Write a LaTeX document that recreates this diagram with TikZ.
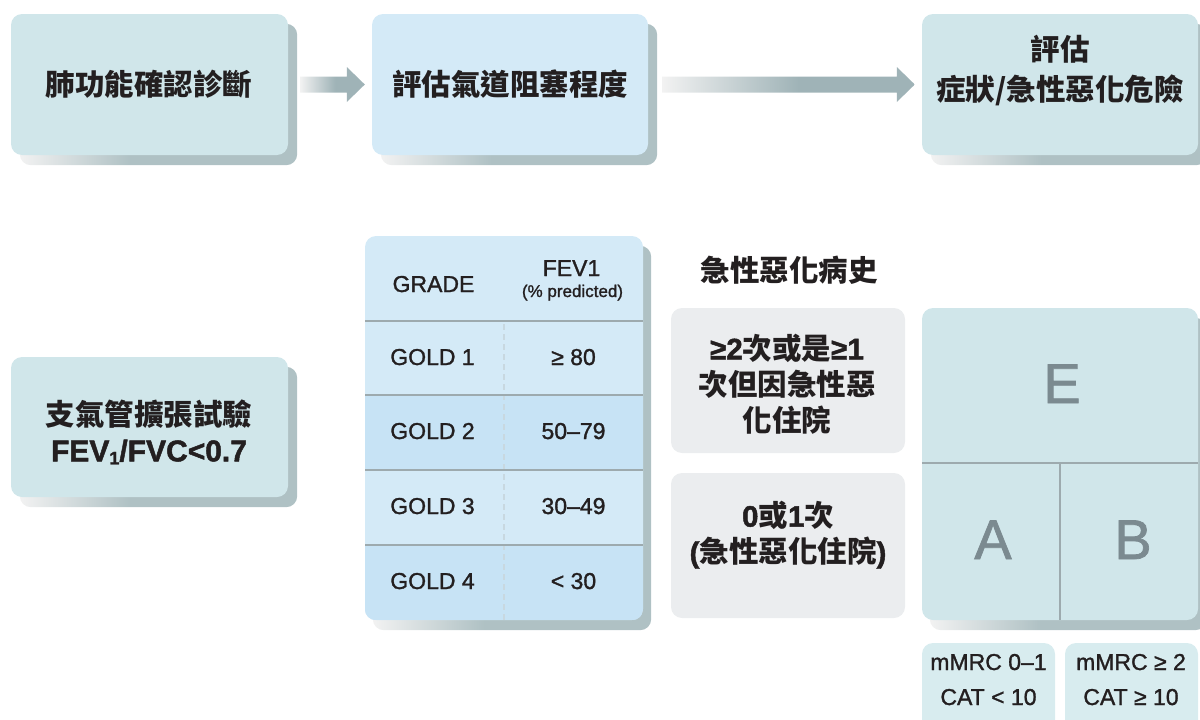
\documentclass[tikz,border=0pt]{standalone}
\usepackage{fontspec}
\setmainfont{Liberation Sans}
\newfontfamily\cjk{Noto Sans CJK TC}
\newfontfamily\latmed{Liberation Sans}[FakeBold=1.3]
\newfontfamily\latbold{Liberation Sans}[FakeBold=1.6]
\usetikzlibrary{backgrounds,calc}
\definecolor{boxcyan}{HTML}{D0E6EA}
\definecolor{boxblue}{HTML}{D4EAF7}
\definecolor{rowdark}{HTML}{C7E3F5}
\definecolor{shd}{HTML}{AFC1C4}
\definecolor{shl}{HTML}{F2F2F2}
\definecolor{arrd}{HTML}{9FB3B7}
\definecolor{grayb}{HTML}{EBEDEF}
\definecolor{linec}{HTML}{9DAAAE}
\definecolor{dashc}{HTML}{C8D8E0}
\definecolor{letter}{HTML}{7B8A90}
\definecolor{txt}{HTML}{231F20}
\definecolor{smallbox}{HTML}{D8ECEF}
\pgfdeclarehorizontalshading{shadowsh}{100bp}{color(0bp)=(shl); color(25bp)=(shl); color(45bp)=(shd); color(100bp)=(shd)}
\pgfdeclarehorizontalshading{arrowsh}{100bp}{color(0bp)=(shl); color(25bp)=(shl); color(52bp)=(arrd); color(100bp)=(arrd)}
\tikzset{
  panel/.style={rectangle, rounded corners=11pt, inner sep=0pt},
  cjkt/.style={font=\cjk\bfseries\fontsize{29.5}{36}\selectfont, text=txt, align=center, inner sep=0pt},
  latt/.style={font=\latmed\fontsize{23}{34}\selectfont, text=txt, inner sep=0pt},
  bigl/.style={font=\latmed\fontsize{56}{60}\selectfont, text=letter, inner sep=0pt},
  shadowfill/.style={shading=shadowsh, rounded corners=11pt},
  blockarrow/.style={shading=arrowsh},
}
\begin{document}
\begin{tikzpicture}[x=1pt,y=-1pt]
\useasboundingbox (0,0) rectangle (1200,720);
\clip (0,0) rectangle (1200,720);
% top row boxes
\node[panel, fill=boxcyan, minimum width=277pt, minimum height=141pt] (b1) at (149.5,84.5) {};
\node[panel, fill=boxblue, minimum width=276pt, minimum height=141pt] (b2) at (510,84.5) {};
\node[panel, fill=boxcyan, minimum width=276pt, minimum height=141pt] (b3) at (1060,84.5) {};
\node[panel, fill=boxcyan, minimum width=277pt, minimum height=140pt] (b4) at (149.5,427) {};
% table
\node[panel, fill=boxblue, minimum width=278pt, minimum height=384pt] (tbl) at (504,428) {};
% gray boxes
\node[panel, fill=grayb, minimum width=234pt, minimum height=145pt] (g1) at (788,380.5) {};
\node[panel, fill=grayb, minimum width=234pt, minimum height=145pt] (g2) at (788,545.5) {};
% E/A/B grid
\node[panel, fill=boxcyan, minimum width=276pt, minimum height=312pt] (eab) at (1060,464) {};
% small boxes
\node[panel, fill=smallbox, minimum width=133pt, minimum height=100pt] (s1) at (988.5,693) {};
\node[panel, fill=smallbox, minimum width=133pt, minimum height=100pt] (s2) at (1131.5,693) {};

\begin{scope}[on background layer]
  \foreach \n/\dx/\dy in {b1/9/10, b2/9/10, b3/9/10, b4/9/10, tbl/8/10, eab/8/10}{
    \shade[shadowfill] ($(\n.north west)+(\dx,\dy)$) rectangle ($(\n.south east)+(\dx,\dy)$);
  }
\end{scope}

% block arrows
\coordinate (a1s) at ($(b1.east)+(12,0)$);
\coordinate (a1e) at ($(b2.west)+(-7,0)$);
\coordinate (a2s) at ($(b2.east)+(14,0)$);
\coordinate (a2e) at ($(b3.west)+(-7,0)$);
\shade[blockarrow] ($(a1s)+(0,-8)$) -- ($(a1e)+(-18,-8)$) -- ($(a1e)+(-18,-17.5)$) -- (a1e) -- ($(a1e)+(-18,17.5)$) -- ($(a1e)+(-18,8)$) -- ($(a1s)+(0,8)$) -- cycle;
\shade[blockarrow] ($(a2s)+(0,-8)$) -- ($(a2e)+(-18,-8)$) -- ($(a2e)+(-18,-17.5)$) -- (a2e) -- ($(a2e)+(-18,17.5)$) -- ($(a2e)+(-18,8)$) -- ($(a2s)+(0,8)$) -- cycle;

% table rows
\begin{scope}
  \clip[rounded corners=11pt] (tbl.north west) rectangle (tbl.south east);
  \fill[rowdark] (365,395) rectangle (643,470);
  \fill[rowdark] (365,545) rectangle (643,620);
\end{scope}
\draw[dashc, line width=1.3pt, dash pattern=on 6pt off 4pt] (504,324) -- (504,620);
\foreach \yy in {321,395,470,545}{
  \draw[linec, line width=2.5pt] (365,\yy) -- (643,\yy);
}
% grid lines
\draw[linec, line width=1.5pt] (eab.west |- 0,463) -- (eab.east |- 0,463);
\draw[linec, line width=1.5pt] (1060,463) -- (eab.south -| 1060,0);

% texts
\node[cjkt] (t1) at (149,84) {肺功能確認診斷};
\node[cjkt] (t2) at (510,84) {評估氣道阻塞程度};
\node[cjkt, font=\cjk\bfseries\fontsize{29.5}{40}\selectfont] (t3) at (1060,71) {評估\\症狀/急性惡化危險};
\node[cjkt] (t4) at (149,432) {支氣管擴張試驗\\{\latbold\fontsize{30}{36}\selectfont FEV\raisebox{-3pt}{\fontsize{18}{18}\selectfont 1}/FVC<0.7}};
\node[cjkt] (hist) at (789,270) {急性惡化病史};
\node[cjkt] (g1t) at (787,384) {{\latbold ≥2}次或是{\latbold ≥1}\\次但因急性惡\\化住院};
\node[cjkt] (g2t) at (788,535) {{\latbold 0}或{\latbold 1}次\\{\latbold (}急性惡化住院{\latbold )}};

\node[latt, anchor=base] (hg) at (433.5,292) {GRADE};
\node[latt, anchor=base] (hf) at (571.5,276) {FEV1};
\node[latt, anchor=base, font=\latmed\fontsize{17}{20}\selectfont] (hp) at (572.5,297) {(\% predicted)};
\node[latt, anchor=base] (r1a) at (432.5,365) {GOLD 1};
\node[latt, anchor=base] (r1b) at (573.5,365) {≥ 80};
\node[latt, anchor=base] (r2a) at (432.5,439) {GOLD 2};
\node[latt, anchor=base] (r2b) at (573.5,439) {50–79};
\node[latt, anchor=base] (r3a) at (432.5,514) {GOLD 3};
\node[latt, anchor=base] (r3b) at (573.5,514) {30–49};
\node[latt, anchor=base] (r4a) at (432.5,589) {GOLD 4};
\node[latt, anchor=base] (r4b) at (573.5,589) {< 30};

\node[bigl, anchor=base] (le) at (1062,403) {E};
\node[bigl, anchor=base] (la) at (993,559) {A};
\node[bigl, anchor=base] (lb) at (1133,559) {B};

\node[latt, anchor=base] (m1a) at (988.5,670) {mMRC 0–1};
\node[latt, anchor=base] (m1b) at (988.5,705) {CAT < 10};
\node[latt, anchor=base] (m2a) at (1131,670) {mMRC ≥ 2};
\node[latt, anchor=base] (m2b) at (1131,705) {CAT ≥ 10};
\end{tikzpicture}
\end{document}
